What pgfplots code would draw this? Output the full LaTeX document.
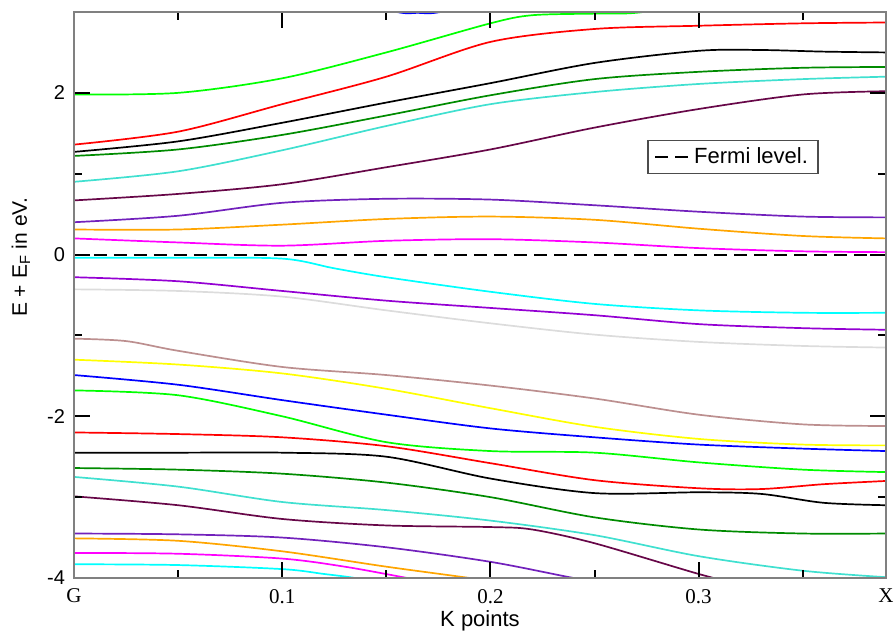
\documentclass[border=0pt]{standalone}
\usepackage{pgfplots}
\pgfplotsset{compat=1.18}
\usepackage{fontspec}
\setmainfont{Liberation Sans}
\newfontfamily\seriffont{Liberation Serif}
\definecolor{xgreen}{RGB}{0,255,0}
\definecolor{xred}{RGB}{255,0,0}
\definecolor{xblue}{RGB}{0,0,255}
\definecolor{xyellow}{RGB}{255,255,0}
\definecolor{xbrown}{RGB}{188,143,143}
\definecolor{xgrey}{RGB}{220,220,220}
\definecolor{xviolet}{RGB}{148,0,211}
\definecolor{xcyan}{RGB}{0,255,255}
\definecolor{xmagenta}{RGB}{255,0,255}
\definecolor{xorange}{RGB}{255,165,0}
\definecolor{xindigo}{RGB}{114,33,188}
\definecolor{xmaroon}{RGB}{103,7,72}
\definecolor{xturq}{RGB}{64,224,208}
\definecolor{xgreenfour}{RGB}{0,139,0}
\pgfplotsset{bandline/.style={smooth, line width=0.85pt, forget plot, no marks}}
\pgfplotsset{major tick length=8pt, minor tick length=4pt}
\begin{document}
\begin{tikzpicture}
\useasboundingbox (-37pt,-27pt) rectangle (411pt,289pt);
\begin{axis}[
  at={(0,0)}, anchor=south west, scale only axis,
  width=406pt, height=283pt,
  xmin=0, xmax=0.39, ymin=-4, ymax=3,
  xtick={0,0.1,0.2,0.3,0.39}, xticklabels={G,0.1,0.2,0.3,X},
  minor xtick={0.05,0.15,0.25,0.35},
  ytick={-4,-2,0,2}, yticklabels={-4,-2,0,2},
  minor ytick={-3,-1,1},
  axis line style={black!50, line width=0.8pt},
  every major tick/.style={black, line width=1pt},
  every minor tick/.style={black, line width=1pt},
  axis on top,
  xticklabel style={font=\fontsize{10.5}{12}\selectfont\seriffont, yshift=-2pt},
  yticklabel style={font=\fontsize{10}{12}\selectfont, xshift=-1pt},
  xlabel={K points}, ylabel={E + E\textsubscript{F} in eV.},
  xlabel style={at={(axis description cs:0.5,-0.076)}, anchor=center, font=\fontsize{11}{13}\selectfont},
  ylabel style={at={(axis description cs:-0.0653,0.567)}, anchor=center, font=\fontsize{10.5}{13}\selectfont},
  legend style={at={(axis description cs:0.8116,0.744)}, anchor=center, draw=black!70, line width=0.6pt, font=\fontsize{11}{13}\selectfont, inner xsep=3pt, inner ysep=1.5pt},
  major tick length=8pt, minor tick length=4pt,
]
% lower bands
\addplot[bandline, xcyan] coordinates {(0,-3.83)(0.05,-3.84)(0.1,-3.89)(0.12,-3.95)(0.135,-4.0)(0.15,-4.08)};
\addplot[bandline, xmagenta] coordinates {(0,-3.69)(0.05,-3.7)(0.1,-3.76)(0.13,-3.86)(0.16,-4.0)(0.18,-4.1)};
\addplot[bandline, xorange] coordinates {(0,-3.51)(0.05,-3.54)(0.1,-3.67)(0.15,-3.86)(0.19,-4.0)(0.21,-4.08)};
\addplot[bandline, xindigo] coordinates {(0,-3.45)(0.05,-3.46)(0.1,-3.5)(0.15,-3.62)(0.2,-3.8)(0.24,-4.0)(0.26,-4.08)};
\addplot[bandline, xmaroon] coordinates {(0,-2.99)(0.05,-3.1)(0.1,-3.27)(0.15,-3.35)(0.2,-3.37)(0.22,-3.40)(0.25,-3.57)(0.3,-3.95)(0.32,-4.08)};
\addplot[bandline, xturq] coordinates {(0,-2.75)(0.05,-2.87)(0.1,-3.06)(0.15,-3.16)(0.2,-3.29)(0.25,-3.47)(0.3,-3.73)(0.35,-3.91)(0.39,-3.99)};
\addplot[bandline, xgreenfour] coordinates {(0,-2.64)(0.05,-2.66)(0.1,-2.71)(0.15,-2.82)(0.2,-3.0)(0.25,-3.25)(0.3,-3.4)(0.35,-3.45)(0.39,-3.45)};
\addplot[bandline, black] coordinates {(0,-2.45)(0.05,-2.45)(0.1,-2.45)(0.15,-2.5)(0.2,-2.77)(0.25,-2.95)(0.3,-2.94)(0.33,-2.96)(0.36,-3.07)(0.39,-3.1)};
\addplot[bandline, xred] coordinates {(0,-2.2)(0.05,-2.22)(0.1,-2.26)(0.15,-2.37)(0.2,-2.58)(0.25,-2.79)(0.3,-2.89)(0.33,-2.9)(0.36,-2.84)(0.39,-2.8)};
\addplot[bandline, xgreen] coordinates {(0,-1.68)(0.05,-1.74)(0.1,-2.0)(0.15,-2.32)(0.2,-2.43)(0.25,-2.45)(0.3,-2.57)(0.35,-2.66)(0.39,-2.69)};
\addplot[bandline, xblue] coordinates {(0,-1.49)(0.05,-1.61)(0.1,-1.8)(0.15,-1.98)(0.2,-2.15)(0.25,-2.26)(0.3,-2.35)(0.35,-2.4)(0.39,-2.43)};
\addplot[bandline, xyellow] coordinates {(0,-1.3)(0.05,-1.36)(0.1,-1.47)(0.15,-1.66)(0.2,-1.9)(0.25,-2.13)(0.3,-2.28)(0.35,-2.35)(0.39,-2.36)};
\addplot[bandline, xbrown] coordinates {(0,-1.04)(0.025,-1.07)(0.05,-1.19)(0.1,-1.39)(0.15,-1.49)(0.2,-1.62)(0.25,-1.78)(0.3,-1.98)(0.35,-2.1)(0.39,-2.12)};
\addplot[bandline, xgrey] coordinates {(0,-0.43)(0.05,-0.45)(0.1,-0.52)(0.15,-0.69)(0.2,-0.85)(0.25,-0.99)(0.3,-1.08)(0.35,-1.13)(0.39,-1.15)};
\addplot[bandline, xviolet] coordinates {(0,-0.28)(0.05,-0.33)(0.1,-0.45)(0.15,-0.57)(0.2,-0.66)(0.25,-0.75)(0.3,-0.86)(0.35,-0.91)(0.39,-0.93)};
\addplot[bandline, xcyan] coordinates {(0,-0.04)(0.05,-0.04)(0.1,-0.05)(0.125,-0.17)(0.15,-0.28)(0.2,-0.46)(0.25,-0.61)(0.3,-0.69)(0.35,-0.72)(0.39,-0.72)};
% upper bands
\addplot[bandline, xmagenta] coordinates {(0,0.2)(0.05,0.15)(0.1,0.11)(0.15,0.17)(0.2,0.19)(0.25,0.15)(0.3,0.08)(0.35,0.04)(0.39,0.03)};
\addplot[bandline, xorange] coordinates {(0,0.31)(0.05,0.31)(0.1,0.37)(0.15,0.44)(0.2,0.47)(0.25,0.43)(0.3,0.32)(0.35,0.23)(0.39,0.2)};
\addplot[bandline, xindigo] coordinates {(0,0.4)(0.05,0.48)(0.1,0.64)(0.15,0.69)(0.2,0.68)(0.25,0.61)(0.3,0.53)(0.35,0.47)(0.39,0.46)};
\addplot[bandline, xmaroon] coordinates {(0,0.67)(0.05,0.75)(0.1,0.87)(0.15,1.08)(0.2,1.3)(0.25,1.57)(0.3,1.8)(0.35,1.98)(0.39,2.02)};
\addplot[bandline, xturq] coordinates {(0,0.9)(0.05,1.03)(0.1,1.29)(0.15,1.59)(0.2,1.86)(0.25,2.01)(0.3,2.11)(0.35,2.17)(0.39,2.2)};
\addplot[bandline, xgreenfour] coordinates {(0,1.22)(0.05,1.3)(0.1,1.48)(0.15,1.72)(0.2,1.97)(0.25,2.17)(0.3,2.26)(0.35,2.31)(0.39,2.32)};
\addplot[bandline, black] coordinates {(0,1.27)(0.05,1.4)(0.1,1.63)(0.15,1.88)(0.2,2.12)(0.25,2.37)(0.3,2.52)(0.33,2.53)(0.36,2.51)(0.39,2.5)};
\addplot[bandline, xred] coordinates {(0,1.36)(0.05,1.52)(0.1,1.86)(0.15,2.2)(0.2,2.63)(0.25,2.79)(0.3,2.83)(0.35,2.86)(0.39,2.87)};
\addplot[bandline, xgreen] coordinates {(0,1.98)(0.05,2.0)(0.1,2.18)(0.15,2.5)(0.2,2.86)(0.22,2.96)(0.25,2.98)(0.27,2.99)(0.3,3.1)};
\addplot[bandline, xblue] coordinates {(0.12,3.2)(0.155,3.0)(0.165,2.99)(0.176,3.0)(0.21,3.2)};
% Fermi level
\addplot[black, line width=1pt, dash pattern=on 6.5pt off 3.5pt] coordinates {(0,0)(0.39,0)};
\addlegendentry{Fermi level.}
\end{axis}
\end{tikzpicture}
\end{document}
